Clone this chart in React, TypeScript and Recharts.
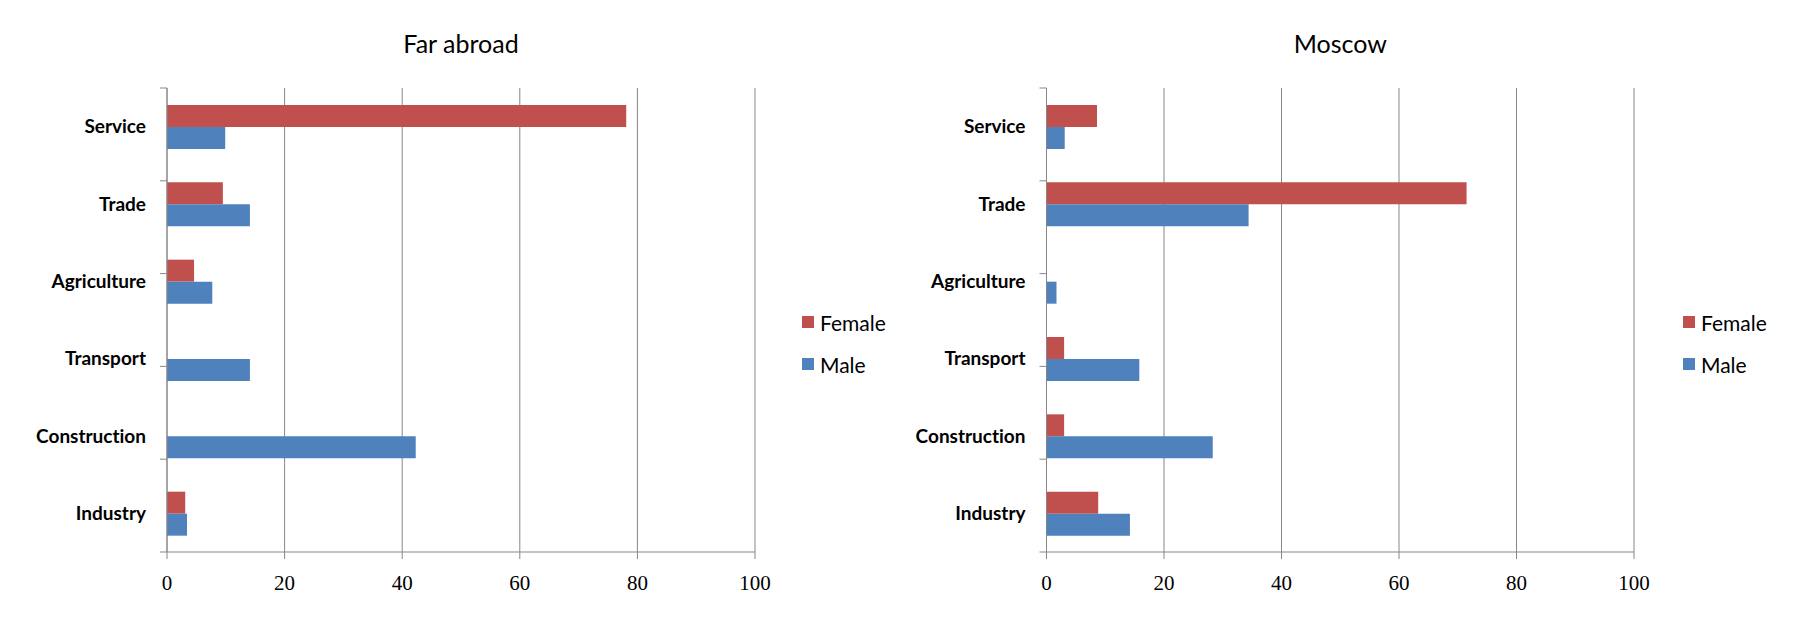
import React from 'react';
import { BarChart, Bar, XAxis, YAxis, CartesianGrid, Legend } from 'recharts';

const CATEGORIES = ['Service', 'Trade', 'Agriculture', 'Transport', 'Construction', 'Industry'];
const SERIES = ['Female', 'Male'];
const FAR_FEMALE = [78.1, 9.5, 4.6, 0, 0, 3.1];
const FAR_MALE = [9.9, 14.1, 7.7, 14.1, 42.3, 3.4];
const MOSCOW_FEMALE = [8.6, 71.5, 0, 3.0, 3.0, 8.8];
const MOSCOW_MALE = [3.1, 34.4, 1.7, 15.8, 28.3, 14.2];
const X_TICKS = [0, 20, 40, 60, 80, 100];
const BOUNDARY_TICKS = [0, 1, 2, 3, 4, 5, 6];

const COLORS = { Female: '#C0504D', Male: '#4F81BD' };
const GRID = '#878787';

const build = (female: number[], male: number[]) =>
  CATEGORIES.map((name, i) => ({ name, Female: female[i], Male: male[i] }));

const LegendContent = (props: any) => {
  const items = props.payload || [];
  return (
    <div>
      {items.map((e: any) => (
        <div key={e.value} style={{ display: 'flex', alignItems: 'center', height: 42 }}>
          <div style={{ width: 12, height: 12, background: e.color, marginRight: 6 }} />
          <span style={{ fontFamily: 'Lato', fontSize: 21, color: '#000' }}>{e.value}</span>
        </div>
      ))}
    </div>
  );
};

const EmptyTick = () => <g />;

type PanelProps = {
  title: string;
  female: number[];
  male: number[];
  left: number;
  width: number;
  yWidth: number;
  rightMargin: number;
  legendLeft: number;
};

const Panel = ({ title, female, male, left, width, yWidth, rightMargin, legendLeft }: PanelProps) => {
  const data = build(female, male);
  const plotCenter = yWidth + (width - yWidth - rightMargin) / 2;
  return (
    <div style={{ position: 'absolute', left, top: 0, width, height: 620 }}>
      <div
        style={{
          position: 'absolute',
          left: plotCenter - 200,
          width: 400,
          top: 28,
          textAlign: 'center',
          fontFamily: 'Lato',
          fontSize: 25,
          color: '#000',
          lineHeight: 'normal',
        }}
      >
        {title}
      </div>
      <BarChart
        width={width}
        height={620}
        data={data}
        layout="vertical"
        margin={{ top: 88, right: rightMargin, bottom: 28, left: 0 }}
        barSize={22}
        barGap={0}
      >
        <CartesianGrid horizontal={false} vertical={true} stroke={GRID} strokeWidth={1} yAxisId="cat" />
        <XAxis
          type="number"
          domain={[0, 100]}
          ticks={X_TICKS}
          interval={0}
          height={40}
          axisLine={{ stroke: GRID }}
          tickLine={{ stroke: GRID }}
          tickSize={7}
          tickMargin={16}
          tick={{ fontFamily: 'Liberation Serif', fontSize: 21, fill: '#000' }}
        />
        <YAxis
          yAxisId="bounds"
          type="number"
          domain={[0, 6]}
          allowDataOverflow
          ticks={BOUNDARY_TICKS}
          interval={0}
          width={7}
          tick={EmptyTick}
          axisLine={{ stroke: GRID }}
          tickLine={{ stroke: GRID }}
          tickSize={7}
          tickMargin={0}
        />
        <YAxis
          yAxisId="cat"
          type="category"
          dataKey="name"
          width={yWidth - 7}
          axisLine={false}
          tickLine={false}
          tickSize={0}
          tickMargin={14}
          interval={0}
          tick={{
            fontFamily: 'Lato',
            fontWeight: 'bold',
            fontSize: 19,
            fill: '#000',
            style: { fontVariantLigatures: 'none' },
          }}
        />
        {SERIES.map((s) => (
          <Bar
            key={s}
            yAxisId="cat"
            dataKey={s}
            fill={COLORS[s as keyof typeof COLORS]}
            isAnimationActive={false}
          />
        ))}
        <Legend
          layout="vertical"
          align="center"
          verticalAlign="middle"
          content={<LegendContent />}
          wrapperStyle={{ position: 'absolute', left: legendLeft, top: 301, width: 'auto' }}
        />
      </BarChart>
    </div>
  );
};

export default function App() {
  return (
    <div style={{ position: 'absolute', left: 0, top: 0, width: 1794, height: 620, background: '#fff' }}>
      <Panel
        title="Far abroad"
        female={FAR_FEMALE}
        male={FAR_MALE}
        left={0}
        width={880}
        yWidth={167}
        rightMargin={125}
        legendLeft={802}
      />
      <Panel
        title="Moscow"
        female={MOSCOW_FEMALE}
        male={MOSCOW_MALE}
        left={880}
        width={914}
        yWidth={166.5}
        rightMargin={160}
        legendLeft={803}
      />
    </div>
  );
}
